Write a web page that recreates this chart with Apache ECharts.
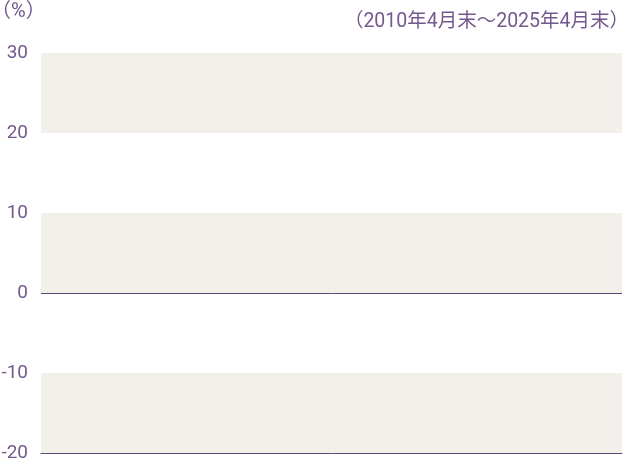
<!DOCTYPE html>
<html><head><meta charset="utf-8">
<script src="https://cdn.jsdelivr.net/npm/echarts@6/dist/echarts.min.js"></script>
<style>html,body{margin:0;padding:0;background:#fff}#c{width:624px;height:460px}</style>
</head><body><div id="c"></div>
<script>
const categories = ['2010','2011','2012','2013','2014','2015','2016','2017','2018','2019','2020','2021','2022','2023','2024','2025'];
const seriesValues = [];
const yTicks = [-20, -10, 0, 10, 20, 30];
const unitLabel = '（%）';
const periodLabel = '（2010年4月末～2025年4月末）';

const purple = '#74598f';
const font = 'Roboto, "Noto Sans CJK JP", sans-serif';
const chart = echarts.init(document.getElementById('c'), null, {renderer: 'canvas'});
chart.setOption({
  animation: false,
  backgroundColor: '#fff',
  grid: {left: 41, right: 2, top: 53, bottom: 7, containLabel: false, outerBoundsMode: 'none'},
  graphic: [
    {type: 'text', left: -9, top: 2, style: {text: unitLabel, fill: purple, fontSize: 20, fontFamily: font}},
    {type: 'text', right: -5, top: 12, style: {text: periodLabel, fill: purple, fontSize: 19.5, fontFamily: font}}
  ],
  xAxis: {
    type: 'category', data: categories, boundaryGap: false,
    axisLine: {onZero: false, lineStyle: {color: '#5a4a75', width: 1}},
    axisTick: {show: false}, axisLabel: {show: false}, splitLine: {show: false}
  },
  yAxis: {
    type: 'value', min: yTicks[0], max: yTicks[yTicks.length - 1], interval: 10,
    axisLine: {show: false}, axisTick: {show: false},
    axisLabel: {color: purple, fontSize: 19, fontFamily: font, margin: 13, padding: [0, 0, 4, 0]},
    splitLine: {show: false},
    splitArea: {show: true, areaStyle: {color: ['#f3efea', '#ffffff']}}
  },
  series: [{
    type: 'line', data: seriesValues, symbol: 'none',
    markLine: {silent: true, symbol: 'none', label: {show: false},
      lineStyle: {color: '#5a4a75', width: 1, type: 'solid'},
      data: [{yAxis: 0}]}
  }]
});
</script></body></html>
